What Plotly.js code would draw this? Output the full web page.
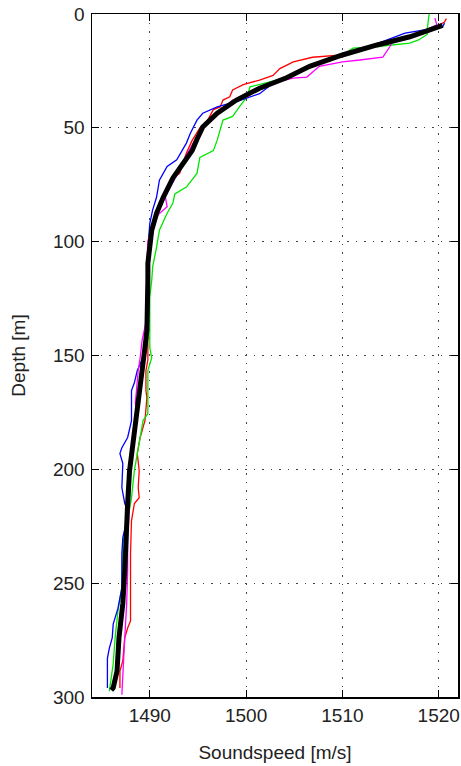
<!DOCTYPE html>
<html>
<head>
<meta charset="utf-8">
<script src="https://cdn.plot.ly/plotly-3.0.1.min.js"></script>
<style>html,body{margin:0;padding:0;background:#fff;}#chart{width:461px;height:766px;}</style>
</head>
<body>
<div id="chart"></div>
<script>
// Mean profile (black)
const meanDepth = [5, 7, 10, 13.6, 18, 23, 28, 32.6, 37.8, 43.6, 49.6, 55, 60, 66, 72, 80.5, 87.5, 95, 101, 109.5, 117, 124.5, 131.6, 139, 146.5, 153.5, 161, 171, 186, 193, 200.6, 215, 230, 244.6, 259, 274, 288.6, 296, 297];
const meanSpeed = [1520.4, 1519.0, 1517.0, 1513.6, 1510.0, 1506.6, 1504.2, 1501.4, 1499.0, 1497.0, 1495.5, 1494.9, 1494.4, 1493.4, 1492.4, 1491.4, 1490.7, 1490.2, 1490.0, 1489.8, 1489.8, 1489.8, 1489.8, 1489.7, 1489.5, 1489.3, 1489.0, 1488.8, 1488.4, 1488.1, 1487.9, 1487.7, 1487.6, 1487.4, 1487.2, 1486.8, 1486.6, 1486.2, 1486.0];

// Red profile
const redDepth = [2, 3.5, 6, 10, 14, 18, 19, 21, 24, 27, 29, 31, 33.4, 36.4, 37.8, 40.8, 42, 47.5, 50, 52, 55.5, 61, 70, 73, 77.4, 80.5, 88, 95, 101, 110, 120, 130, 142, 152, 156.6, 165.4, 168.5, 178.6, 186, 193, 200.6, 208, 212.5, 215, 222.6, 237, 252, 266.6, 269.7, 274, 284, 288.6, 296];
const redSpeed = [1520.8, 1520.6, 1519.5, 1516.8, 1513.5, 1510.0, 1506.9, 1504.9, 1503.5, 1502.8, 1501.4, 1499.7, 1498.6, 1498.3, 1497.6, 1497.3, 1496.6, 1495.9, 1495.2, 1494.9, 1494.4, 1493.8, 1493.1, 1492.1, 1491.8, 1491.4, 1490.8, 1490.3, 1490.0, 1489.9, 1489.9, 1489.9, 1489.8, 1489.8, 1489.6, 1489.6, 1489.7, 1489.5, 1489.0, 1488.7, 1488.9, 1488.8, 1488.9, 1488.4, 1488.1, 1488.0, 1488.0, 1488.0, 1487.7, 1487.4, 1487.2, 1486.9, 1486.9];

// Green profile
const greenDepth = [0, 3, 7, 9, 11.4, 12.8, 13.6, 14.5, 15, 17.2, 22, 28, 32, 36.4, 40.8, 45, 46.6, 51, 55.4, 60, 63, 70, 76, 79, 83, 87.5, 95, 102.5, 111, 117, 124.5, 139, 146.5, 151, 156.6, 161, 175.5, 178.6, 186, 193, 200.6, 212.5, 222.6, 232.7, 244.6, 252, 262, 274, 285.5, 297.4];
const greenSpeed = [1519.0, 1518.9, 1518.8, 1518.8, 1517.9, 1517.0, 1515.5, 1513.2, 1511.1, 1510.3, 1506.8, 1504.2, 1500.4, 1500.1, 1499.3, 1498.6, 1497.6, 1497.3, 1497.0, 1496.6, 1495.2, 1494.9, 1493.8, 1492.6, 1492.4, 1491.8, 1491.0, 1490.7, 1490.3, 1490.2, 1490.0, 1490.0, 1490.0, 1490.2, 1489.8, 1489.8, 1489.8, 1489.3, 1489.0, 1488.7, 1488.4, 1488.1, 1487.7, 1487.2, 1487.1, 1487.1, 1486.7, 1486.4, 1486.2, 1485.8];

// Blue profile
const blueDepth = [4, 5.7, 8.4, 10.6, 14, 18, 23, 28, 30.4, 35, 38, 40.8, 43.6, 46.6, 52.5, 56.7, 64, 67, 73, 80.5, 86, 92, 99.6, 109.5, 124.5, 139, 151, 156.6, 162, 165.4, 178.6, 186, 190.5, 193, 197.5, 208, 215, 218, 222.6, 230, 237, 252, 261, 268, 274, 278.5, 283, 296];
const blueSpeed = [1520.6, 1520.4, 1516.5, 1515.2, 1513.0, 1509.6, 1506.4, 1504.0, 1502.8, 1501.4, 1499.3, 1497.0, 1495.5, 1494.9, 1494.2, 1493.8, 1492.8, 1491.8, 1491.0, 1490.7, 1490.3, 1490.0, 1489.9, 1489.7, 1489.7, 1489.6, 1489.3, 1488.7, 1488.4, 1488.1, 1488.1, 1487.7, 1487.1, 1486.9, 1487.2, 1487.1, 1487.4, 1487.7, 1487.6, 1487.2, 1487.1, 1487.1, 1486.7, 1486.2, 1486.1, 1485.8, 1485.6, 1485.6];

// Magenta profile
const magentaDepth = [1.8, 4.8, 8.4, 12.3, 14.5, 18.9, 20.2, 21, 23, 27.7, 28.2, 29.8, 32.6, 36.4, 37.8, 41, 45, 50, 56, 62, 68.6, 75, 80, 84.7, 88, 95, 99.6, 109.5, 120, 131.6, 137.7, 143.4, 151, 156.6, 171, 178.6, 186, 200, 215, 230, 244.6, 259, 274, 288.6, 299];
const magentaSpeed = [1519.6, 1519.8, 1518.0, 1515.2, 1514.9, 1514.2, 1511.8, 1510.0, 1507.6, 1506.3, 1504.9, 1503.2, 1501.4, 1500.1, 1498.6, 1497.8, 1496.7, 1495.4, 1494.6, 1493.8, 1493.1, 1492.3, 1491.6, 1491.8, 1490.9, 1490.2, 1489.8, 1489.7, 1489.8, 1489.8, 1489.5, 1489.2, 1489.0, 1488.8, 1488.5, 1488.7, 1488.2, 1488.0, 1487.9, 1487.7, 1487.7, 1487.6, 1487.4, 1487.2, 1487.1];

const xTicks = [1490, 1500, 1510, 1520];
const yTicks = [0, 50, 100, 150, 200, 250, 300];

function line(x, y, color, width) {
  return {x: x, y: y, type: 'scatter', mode: 'lines', line: {color: color, width: width}, hoverinfo: 'skip', showlegend: false};
}

const data = [
  line(redSpeed, redDepth, '#ff0000', 1.3),
  line(greenSpeed, greenDepth, '#00e600', 1.3),
  line(blueSpeed, blueDepth, '#0000ff', 1.3),
  line(magentaSpeed, magentaDepth, '#ff00ff', 1.3),
  line(meanSpeed, meanDepth, '#000000', 5)
];

const font = {family: 'Liberation Sans, Arial, Helvetica, sans-serif', size: 19, color: '#222'};

const layout = {
  width: 461, height: 766,
  margin: {l: 92, r: 3, t: 14, b: 69},
  paper_bgcolor: '#fff', plot_bgcolor: '#fff',
  font: font,
  xaxis: {
    range: [1484, 1522], tickvals: xTicks, ticktext: xTicks.map(String),
    ticks: 'inside', ticklen: 7, tickcolor: '#000', mirror: 'ticks',
    showline: true, linecolor: '#000', linewidth: 1.5,
    showgrid: true, gridcolor: '#444', gridwidth: 1, griddash: '1.5px,7px',
    zeroline: false, tickfont: font, ticklabelstandoff: 1,
    title: {text: 'Soundspeed [m/s]', font: font, standoff: 20}
  },
  yaxis: {
    range: [300, 0], tickvals: yTicks, ticktext: yTicks.map(String),
    ticks: 'inside', ticklen: 7, tickcolor: '#000', mirror: 'ticks',
    showline: true, linecolor: '#000', linewidth: 1.5,
    showgrid: true, gridcolor: '#444', gridwidth: 1, griddash: '1.5px,7px',
    zeroline: false, tickfont: font, ticklabelstandoff: 2,
    title: {text: 'Depth [m]', font: font, standoff: 22}
  }
};

Plotly.newPlot('chart', data, layout, {displayModeBar: false, staticPlot: true});
</script>
</body>
</html>
